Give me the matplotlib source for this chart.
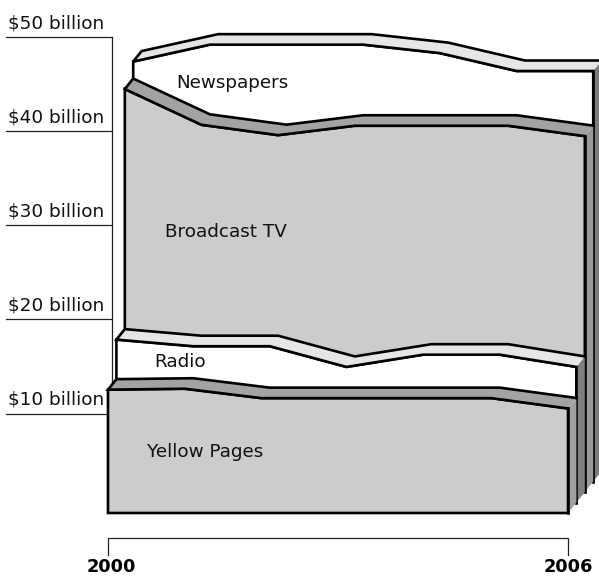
import numpy as np
import matplotlib
matplotlib.use("Agg")
import matplotlib.pyplot as plt
from matplotlib import font_manager
from matplotlib.patches import Polygon

# --- data (billions of dollars) ---
years = [2000, 2001, 2002, 2003, 2004, 2005, 2006]
yellow_pages = [13.1, 13.2, 12.2, 12.2, 12.2, 12.2, 11.1]
radio = [17.3, 16.6, 16.6, 14.4, 15.7, 15.7, 14.4]
broadcast_tv = [42.8, 39.0, 37.9, 38.9, 38.9, 38.9, 37.8]
newspapers = [44.6, 46.4, 46.4, 46.4, 45.5, 43.6, 43.6]
series_names = ["Yellow Pages", "Radio", "Broadcast TV", "Newspapers"]
tick_values = [10, 20, 30, 40, 50]
tick_labels = ["$10 billion", "$20 billion", "$30 billion", "$40 billion", "$50 billion"]
year_labels = ["2000", "2006"]


def has_font(name):
    try:
        font_manager.findfont(name, fallback_to_default=False)
        return True
    except ValueError:
        return False


if has_font("DejaVu Sans Condensed"):
    FAMILY, LABEL_SIZE, TICK_SIZE = "DejaVu Sans Condensed", 14.2, 14.3
else:
    FAMILY, LABEL_SIZE, TICK_SIZE = "DejaVu Sans", 13.2, 13.3
plt.rcParams["font.family"] = [FAMILY, "DejaVu Sans"]

# --- geometry of the oblique projection ---
W, H = 599, 577
PX_PER_YEAR = 76.67
PX_PER_BILLION = 9.415
X0_PX, Y0_PX = 108, 513          # 2000 / $0 on the front slab
DX = 8.4 / PX_PER_YEAR           # depth step, in years
DY = 10.5 / PX_PER_BILLION       # depth step, in billions

fig = plt.figure(figsize=(W / 100, H / 100), dpi=100)
ax = fig.add_axes([0, 0, 1, 1])
ax.set_axis_off()
x_left = years[0] - X0_PX / PX_PER_YEAR
y_bottom = -(H - Y0_PX) / PX_PER_BILLION
ax.set_xlim(x_left, x_left + W / PX_PER_YEAR)
ax.set_ylim(y_bottom, y_bottom + H / PX_PER_BILLION)

LW = 1.9
AXIS_COLOR = "#222222"

# --- value wall: ticks sit half a slab back ---
axis_x = years[0] + 0.5 * DX
tick_y = [v + 0.5 * DY for v in tick_values]
ytrans = ax.get_yaxis_transform()
ax.plot([axis_x, axis_x], [0.5 * DY, tick_y[-1]], color=AXIS_COLOR, lw=0.9, zorder=1)
for ty, lab in zip(tick_y, tick_labels):
    ax.plot([x_left + 6 / PX_PER_YEAR, axis_x], [ty, ty], color=AXIS_COLOR, lw=0.9, zorder=1)
    ax.text(8 / W, ty + 0.95, lab, transform=ytrans, ha="left", va="baseline",
            fontsize=TICK_SIZE, color="#111111", zorder=1)

# --- slabs, drawn back to front ---
styles = [
    dict(front="#cccccc", top="#a3a3a3", side="#a0a0a0"),  # Yellow Pages
    dict(front="#ffffff", top="#e6e6e6", side="#808080"),  # Radio
    dict(front="#cccccc", top="#a3a3a3", side="#999999"),  # Broadcast TV
    dict(front="#ffffff", top="#e6e6e6", side="#7a7a7a"),  # Newspapers
]
all_series = [yellow_pages, radio, broadcast_tv, newspapers]

yr = np.array(years, dtype=float)
for k in range(len(all_series) - 1, -1, -1):
    vals = np.array(all_series[k], dtype=float)
    st = styles[k]
    z = 10 + (len(all_series) - k) * 10
    X = yr + k * DX
    base = k * DY
    Yt = vals + k * DY

    # front face
    front = np.vstack([np.column_stack([X, Yt]),
                       [[X[-1], base], [X[0], base]]])
    ax.add_patch(Polygon(front, closed=True, facecolor=st["front"],
                         edgecolor="black", lw=LW, joinstyle="miter", zorder=z))
    # right side face
    side = [[X[-1], Yt[-1]], [X[-1] + DX, Yt[-1] + DY],
            [X[-1] + DX, base + DY], [X[-1], base]]
    ax.add_patch(Polygon(side, closed=True, facecolor=st["side"],
                         edgecolor="none", zorder=z + 1))
    # top face
    top = np.vstack([np.column_stack([X, Yt]),
                     np.column_stack([X + DX, Yt + DY])[::-1]])
    ax.add_patch(Polygon(top, closed=True, facecolor=st["top"],
                         edgecolor="none", zorder=z + 2))
    # outline of the top face: front edge, left end, back edge
    ox = np.concatenate([X[::-1], X + DX])
    oy = np.concatenate([Yt[::-1], Yt + DY])
    ax.plot(ox, oy, color="black", lw=LW, solid_joinstyle="miter", zorder=z + 3)
    # right edge of the front face
    ax.plot([X[-1], X[-1]], [base, Yt[-1]], color="black", lw=LW, zorder=z + 3)

# --- series names ---
label_pos = {
    "Newspapers": (2001.617, 45.67),
    "Broadcast TV": (2001.54, 29.85),
    "Radio": (2000.946, 15.99),
    "Yellow Pages": (2001.265, 6.48),
}
for name in series_names:
    lx, ly = label_pos[name]
    ax.text(lx, ly, name, ha="center", va="center", fontsize=LABEL_SIZE,
            color="#111111", zorder=100)

# --- year bracket ---
yb = -2.61
yt_low = -4.44
ax.plot([years[0], years[0], years[-1], years[-1]], [yt_low, yb, yb, yt_low],
        color=AXIS_COLOR, lw=0.9, zorder=1)
for yv, lab, shift in [(years[0], year_labels[0], 0.045), (years[-1], year_labels[1], 0.0)]:
    ax.text(yv + shift, -6.3, lab, ha="center", va="baseline",
            fontsize=12.8, fontweight="bold", family="DejaVu Sans")

fig.savefig("out.png", dpi=100)
